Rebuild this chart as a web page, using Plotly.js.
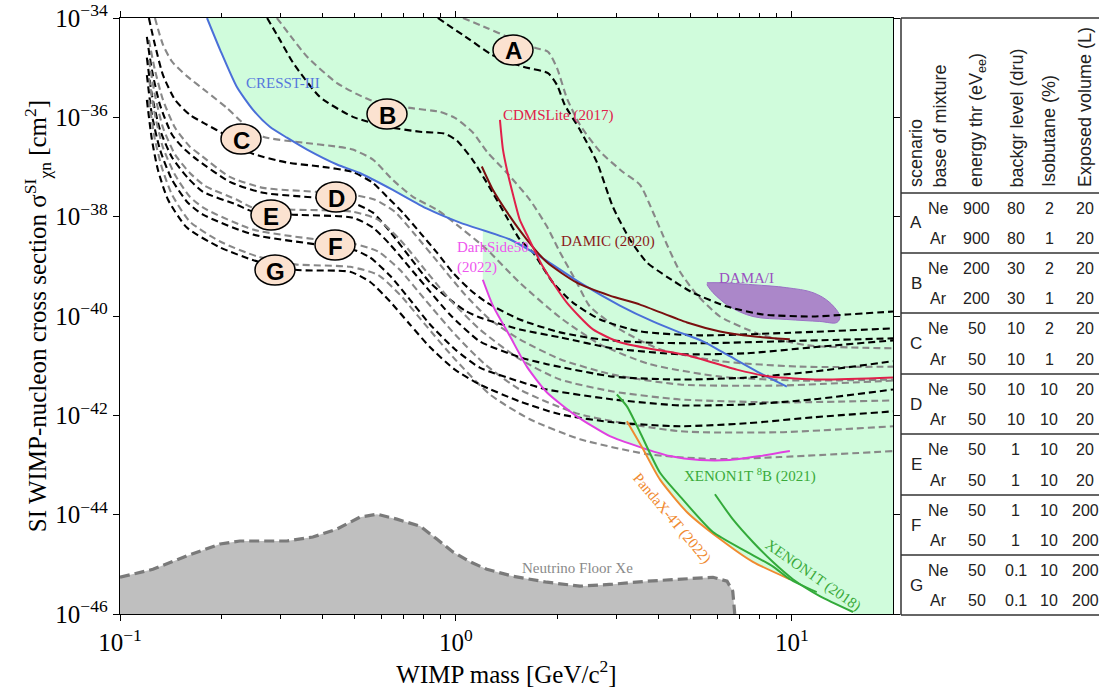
<!DOCTYPE html>
<html><head><meta charset="utf-8">
<script src="https://cdn.plot.ly/plotly-3.0.1.min.js"></script>
<style>html,body{margin:0;padding:0;background:#fff}#chart{width:1099px;height:689px}</style>
</head><body><div id="chart"></div>
<script>
// ---------- DATA: each point is [log10(WIMP mass / GeV), log10(sigma / cm^2)] ----------
// Projected sensitivities, scenario A..G, Ne-based (black) and Ar-based (grey)
const A_Ne = [[-0.054,-34.00],[0.042,-34.44],[0.107,-34.74],[0.199,-34.98],[0.274,-35.11],[0.301,-35.35],[0.324,-35.75],[0.369,-36.25],[0.420,-36.91],[0.467,-37.80],[0.518,-38.46],[0.568,-38.92],[0.628,-39.21],[0.705,-39.53],[0.807,-39.81],[0.914,-39.97],[1.063,-40.01],[1.164,-39.97],[1.301,-39.91]];
const A_Ar = [[0.021,-34.00],[0.092,-34.20],[0.161,-34.40],[0.235,-34.60],[0.274,-34.68],[0.301,-35.01],[0.330,-35.61],[0.369,-36.15],[0.429,-36.69],[0.497,-37.10],[0.548,-37.36],[0.586,-37.90],[0.628,-38.56],[0.667,-39.11],[0.717,-39.57],[0.786,-40.01],[0.905,-40.37],[1.045,-40.59],[1.301,-40.65]];
const B_Ne = [[-0.562,-34.00],[-0.524,-34.44],[-0.485,-34.90],[-0.405,-35.59],[-0.307,-35.99],[-0.205,-36.19],[-0.107,-36.29],[-0.033,-36.33],[0.003,-36.47],[0.051,-36.87],[0.101,-37.42],[0.152,-38.02],[0.190,-38.46],[0.229,-38.72],[0.289,-39.33],[0.348,-39.73],[0.429,-40.07],[0.548,-40.31],[0.726,-40.39],[1.024,-40.33],[1.301,-40.25]];
const B_Ar = [[-0.533,-34.00],[-0.488,-34.40],[-0.443,-34.78],[-0.354,-35.31],[-0.256,-35.65],[-0.137,-35.81],[-0.048,-35.89],[-0.003,-36.01],[0.051,-36.31],[0.092,-36.69],[0.152,-37.12],[0.220,-37.66],[0.271,-38.20],[0.310,-38.72],[0.360,-39.33],[0.399,-39.81],[0.488,-40.27],[0.607,-40.67],[0.786,-40.91],[1.024,-41.02],[1.301,-41.02]];
const C_Ne = [[-0.914,-34.00],[-0.896,-34.54],[-0.872,-35.15],[-0.836,-35.65],[-0.792,-35.95],[-0.741,-36.15],[-0.688,-36.35],[-0.613,-36.71],[-0.503,-36.91],[-0.405,-36.99],[-0.307,-37.10],[-0.247,-37.32],[-0.205,-37.60],[-0.158,-37.92],[-0.107,-38.32],[-0.057,-38.72],[-0.009,-39.13],[0.042,-39.47],[0.092,-39.73],[0.190,-40.07],[0.310,-40.33],[0.429,-40.47],[0.548,-40.53],[0.726,-40.55],[0.964,-40.51],[1.301,-40.45]];
const C_Ar = [[-0.896,-34.00],[-0.872,-34.54],[-0.845,-34.88],[-0.801,-35.17],[-0.741,-35.49],[-0.682,-35.81],[-0.628,-36.15],[-0.574,-36.39],[-0.455,-36.51],[-0.354,-36.59],[-0.307,-36.65],[-0.247,-36.85],[-0.188,-37.26],[-0.128,-37.60],[-0.057,-37.86],[-0.009,-38.10],[0.092,-38.66],[0.190,-39.33],[0.310,-40.03],[0.429,-40.57],[0.577,-40.97],[0.786,-41.22],[1.024,-41.30],[1.301,-41.28]];
const D_Ne = [[-0.920,-34.38],[-0.905,-35.05],[-0.881,-35.75],[-0.845,-36.35],[-0.807,-36.65],[-0.771,-36.85],[-0.673,-37.30],[-0.574,-37.52],[-0.414,-37.62],[-0.307,-37.72],[-0.247,-37.92],[-0.196,-38.30],[-0.137,-38.82],[-0.077,-39.33],[-0.018,-39.67],[0.027,-39.89],[0.071,-40.03],[0.190,-40.27],[0.310,-40.43],[0.467,-40.65],[0.667,-40.77],[0.866,-40.75],[1.063,-40.63],[1.301,-40.49]];
const D_Ar = [[-0.914,-34.44],[-0.896,-35.05],[-0.872,-35.65],[-0.836,-36.21],[-0.792,-36.59],[-0.762,-36.75],[-0.673,-37.20],[-0.574,-37.42],[-0.414,-37.50],[-0.307,-37.56],[-0.241,-37.66],[-0.182,-37.90],[-0.122,-38.36],[-0.048,-38.96],[0.027,-39.57],[0.101,-40.07],[0.190,-40.47],[0.310,-40.87],[0.467,-41.18],[0.667,-41.38],[0.964,-41.40],[1.301,-41.30]];
const E_Ne = [[-0.920,-34.80],[-0.905,-35.55],[-0.881,-36.25],[-0.845,-36.81],[-0.798,-37.22],[-0.753,-37.50],[-0.652,-37.76],[-0.604,-37.90],[-0.485,-37.96],[-0.307,-38.02],[-0.247,-38.22],[-0.196,-38.56],[-0.137,-39.03],[-0.077,-39.51],[-0.018,-39.97],[0.071,-40.51],[0.190,-40.83],[0.271,-40.97],[0.467,-41.22],[0.667,-41.28],[0.866,-41.24],[1.063,-41.12],[1.301,-40.91]];
const E_Ar = [[-0.914,-34.84],[-0.896,-35.55],[-0.872,-36.21],[-0.836,-36.75],[-0.792,-37.12],[-0.747,-37.38],[-0.652,-37.66],[-0.604,-37.82],[-0.485,-37.86],[-0.307,-37.90],[-0.232,-38.06],[-0.167,-38.46],[-0.092,-39.07],[-0.018,-39.67],[0.071,-40.27],[0.190,-40.87],[0.310,-41.28],[0.467,-41.52],[0.667,-41.68],[0.964,-41.74],[1.301,-41.70]];
const F_Ne = [[-0.920,-35.15],[-0.905,-35.95],[-0.881,-36.65],[-0.845,-37.26],[-0.798,-37.72],[-0.753,-37.96],[-0.604,-38.36],[-0.414,-38.56],[-0.307,-38.66],[-0.256,-38.82],[-0.196,-39.19],[-0.137,-39.67],[-0.077,-40.17],[-0.003,-40.67],[0.071,-41.04],[0.190,-41.32],[0.271,-41.48],[0.467,-41.68],[0.667,-41.80],[0.866,-41.78],[1.063,-41.68],[1.301,-41.48]];
const F_Ar = [[-0.914,-35.21],[-0.896,-35.95],[-0.872,-36.61],[-0.836,-37.16],[-0.792,-37.60],[-0.747,-37.84],[-0.604,-38.26],[-0.414,-38.46],[-0.307,-38.54],[-0.232,-38.70],[-0.167,-39.07],[-0.092,-39.67],[-0.003,-40.37],[0.086,-40.97],[0.190,-41.48],[0.369,-41.98],[0.667,-42.32],[0.964,-42.34],[1.301,-42.22]];
const G_Ne = [[-0.920,-35.65],[-0.905,-36.45],[-0.887,-37.06],[-0.857,-37.66],[-0.801,-38.22],[-0.702,-38.62],[-0.592,-38.90],[-0.479,-39.07],[-0.315,-39.11],[-0.256,-39.31],[-0.196,-39.71],[-0.137,-40.17],[-0.077,-40.63],[-0.003,-41.08],[0.071,-41.38],[0.190,-41.72],[0.310,-41.98],[0.467,-42.14],[0.667,-42.22],[0.866,-42.16],[1.063,-42.04],[1.301,-41.92]];
const G_Ar = [[-0.914,-35.65],[-0.896,-36.45],[-0.875,-37.02],[-0.845,-37.56],[-0.792,-38.10],[-0.702,-38.50],[-0.592,-38.80],[-0.479,-38.96],[-0.315,-39.01],[-0.232,-39.17],[-0.167,-39.57],[-0.092,-40.17],[-0.003,-40.87],[0.101,-41.58],[0.220,-42.08],[0.369,-42.48],[0.568,-42.78],[0.765,-42.88],[0.964,-42.84],[1.301,-42.72]];

// Existing experimental limits
const CRESST = [[-0.741,-34.00],[-0.702,-34.64],[-0.652,-35.39],[-0.604,-35.85],[-0.554,-36.19],[-0.503,-36.41],[-0.443,-36.65],[-0.354,-36.95],[-0.286,-37.12],[-0.188,-37.46],[-0.086,-37.84],[0.012,-38.12],[0.161,-38.46],[0.250,-38.80],[0.369,-39.33],[0.488,-39.79],[0.586,-40.11],[0.658,-40.31],[0.735,-40.51],[0.815,-40.81],[0.914,-41.18],[0.985,-41.42]];
const CDMSLite = [[0.131,-36.05],[0.140,-36.65],[0.152,-37.06],[0.170,-37.56],[0.190,-38.06],[0.211,-38.36],[0.259,-39.01],[0.330,-39.73],[0.408,-40.27],[0.488,-40.53],[0.586,-40.67],[0.688,-40.79],[0.836,-41.08],[0.935,-41.22],[1.083,-41.28],[1.301,-41.24]];
const DAMIC = [[0.077,-36.99],[0.110,-37.46],[0.161,-38.00],[0.211,-38.46],[0.271,-38.92],[0.360,-39.33],[0.458,-39.59],[0.548,-39.77],[0.688,-40.13],[0.786,-40.31],[0.884,-40.41],[0.994,-40.47]];
const DarkSide = [[0.080,-39.27],[0.110,-39.79],[0.161,-40.41],[0.211,-41.02],[0.271,-41.54],[0.360,-42.02],[0.458,-42.42],[0.548,-42.64],[0.637,-42.82],[0.726,-42.90],[0.815,-42.90],[0.905,-42.82],[0.994,-42.72]];
const XENON1T_8B = [[0.479,-41.58],[0.509,-41.82],[0.548,-42.34],[0.607,-43.15],[0.667,-43.63],[0.765,-44.35],[0.866,-44.75],[0.943,-45.04],[0.994,-45.30],[1.074,-45.56]];
const XENON1T = [[0.771,-43.59],[0.824,-44.09],[0.884,-44.55],[0.943,-44.95],[1.003,-45.30],[1.083,-45.64],[1.182,-45.96]];
const PandaX = [[0.509,-42.12],[0.557,-42.68],[0.607,-43.29],[0.688,-43.95],[0.786,-44.49],[0.884,-44.95],[0.994,-45.30]];
const DAMA = [[0.747,-39.33],[0.786,-39.33],[0.884,-39.37],[0.985,-39.43],[1.063,-39.53],[1.113,-39.73],[1.143,-40.01],[1.134,-40.13],[1.083,-40.11],[0.985,-40.07],[0.884,-40.01],[0.815,-39.81],[0.765,-39.53],[0.747,-39.37]];
const NeutrinoFloorXe = [[-1.000,-45.26],[-0.902,-45.10],[-0.801,-44.83],[-0.702,-44.59],[-0.643,-44.53],[-0.503,-44.53],[-0.426,-44.45],[-0.354,-44.29],[-0.286,-44.05],[-0.235,-43.99],[-0.176,-44.09],[-0.107,-44.23],[-0.057,-44.49],[-0.009,-44.75],[0.042,-44.95],[0.092,-45.10],[0.170,-45.24],[0.271,-45.36],[0.369,-45.44],[0.467,-45.40],[0.568,-45.34],[0.667,-45.30],[0.765,-45.26],[0.807,-45.34],[0.824,-45.54],[0.830,-46.00]];

// Axis ticks
const massTicks = [0.1, 1, 10];
const massTickText = ['10<sup>\u22121</sup>', '10<sup>0</sup>', '10<sup>1</sup>'];
const massMinorTicks = [0.2,0.3,0.4,0.5,0.6,0.7,0.8,0.9,2,3,4,5,6,7,8,9];
const sigmaTicks = [1e-46, 1e-44, 1e-42, 1e-40, 1e-38, 1e-36, 1e-34];
const sigmaTickText = ['10<sup>\u221246</sup>','10<sup>\u221244</sup>','10<sup>\u221242</sup>','10<sup>\u221240</sup>','10<sup>\u221238</sup>','10<sup>\u221236</sup>','10<sup>\u221234</sup>'];

// Table
const scenarios = ['A','B','C','D','E','F','G'];
const mixtureBase = ['Ne','Ar'];
const energyThr = [900,900,200,200,50,50,50,50,50,50,50,50,50,50];
const backgrLevel = [80,80,30,30,10,10,10,10,1,1,1,1,0.1,0.1];
const isobutane = [2,1,2,1,2,1,10,10,10,10,10,10,10,10];
const exposedVolume = [20,20,20,20,20,20,20,20,20,20,200,200,200,200];
const tableHeaders = ['scenario','base of mixture','energy thr (eV<sub>ee</sub>)','backgr level (dru)','Isobutane (%)','Exposed volume (L)'];

// ---------- helpers ----------
const P10 = v => Math.pow(10, v);
const xs = pts => pts.map(p => P10(p[0]));
const ys = pts => pts.map(p => P10(p[1]));
function interpY(pts, lx) {
  for (let i = 0; i < pts.length - 1; i++) {
    const a = pts[i], b = pts[i+1];
    if ((lx >= a[0] && lx <= b[0])) { const t = (lx - a[0]) / (b[0] - a[0]); return a[1] + t * (b[1] - a[1]); }
  }
  return pts[pts.length-1][1];
}
const X_MAX = Math.log10(20), X_MIN = -1, Y_MIN = -46, Y_MAX = -34;

const traces = [];

// Excluded (green) region built from the limit curves
const dsStart = DarkSide[0][0];
const cross = PandaX.find(p => p[1] <= interpY(DarkSide, p[0]));
const pxLast = PandaX[PandaX.length-1][0];
const region = [];
region.push([CRESST[0][0], Y_MAX + 0.5]);
CRESST.filter(p => p[0] < dsStart).forEach(p => region.push(p));
region.push([dsStart, interpY(CRESST, dsStart)]);
DarkSide.filter(p => p[0] < cross[0]).forEach(p => region.push(p));
PandaX.filter(p => p[0] >= cross[0]).forEach(p => region.push(p));
XENON1T.filter(p => p[0] > pxLast).forEach(p => region.push(p));
region.push([XENON1T[XENON1T.length-1][0] + 0.02, Y_MIN - 0.5]);
region.push([X_MAX + 0.3, Y_MIN - 0.5]);
region.push([X_MAX + 0.3, Y_MAX + 0.5]);
traces.push({x: xs(region), y: ys(region), mode:'lines', fill:'toself', fillcolor:'#d0fcdc', line:{width:0, color:'rgba(0,0,0,0)'}, hoverinfo:'skip'});

// Neutrino floor fill
const nf = NeutrinoFloorXe.slice();
const nfPoly = nf.concat([[nf[nf.length-1][0], Y_MIN - 1], [X_MIN - 0.2, Y_MIN - 1], [X_MIN - 0.2, nf[0][1]]]);
traces.push({x: xs(nfPoly), y: ys(nfPoly), mode:'lines', fill:'toself', fillcolor:'#bfbfbf', line:{width:0, color:'rgba(0,0,0,0)'}, hoverinfo:'skip'});
traces.push({x: xs(nf), y: ys(nf), mode:'lines', line:{color:'#7a7a7a', width:3.2, dash:'10px,5px'}, hoverinfo:'skip'});

// DAMA region
traces.push({x: xs(DAMA), y: ys(DAMA), mode:'lines', fill:'toself', fillcolor:'#ab87c9', line:{color:'#9a70c4', width:1, shape:'spline'}, hoverinfo:'skip'});

// Scenario curves
const scenarioCurves = [[A_Ne, A_Ar],[B_Ne, B_Ar],[C_Ne, C_Ar],[D_Ne, D_Ar],[E_Ne, E_Ar],[F_Ne, F_Ar],[G_Ne, G_Ar]];
scenarioCurves.forEach(([ne, ar]) => {
  traces.push({x: xs(ar), y: ys(ar), mode:'lines', line:{color:'#888888', width:2.1, dash:'7px,4px', shape:'spline', smoothing:0.6}, hoverinfo:'skip'});
  traces.push({x: xs(ne), y: ys(ne), mode:'lines', line:{color:'#000000', width:2.1, dash:'7px,4px', shape:'spline', smoothing:0.6}, hoverinfo:'skip'});
});

// Experimental limits
const expLine = (pts, color) => ({x: xs(pts), y: ys(pts), mode:'lines', line:{color: color, width:2, shape:'spline', smoothing:0.6}, hoverinfo:'skip'});
traces.push(expLine(CRESST, '#4a6fd8'));
traces.push(expLine(DAMIC, '#7a1010'));
traces.push(expLine(CDMSLite, '#e0204a'));
traces.push(expLine(DarkSide, '#e040e0'));
traces.push(expLine(PandaX, '#f08a30'));
traces.push(expLine(XENON1T_8B, '#33aa3a'));
traces.push(expLine(XENON1T, '#33aa3a'));

// ---------- layout ----------
const W = 1099, H = 689, ML = 120, MR = 206, MT = 18, MB = 75;
const PW = W - ML - MR, PH = H - MT - MB;
const pxX = v => (v - ML) / PW;
const pxY = v => (H - MB - v) / PH;

const shapes = [];
const annotations = [];
const serif = 'Liberation Serif, Times New Roman, serif';
const sans = 'Liberation Sans, Arial, sans-serif';

// Scenario label bubbles
const bubblePos = {A:[513,50], B:[387,114], C:[241,139], D:[336,197], E:[271,215], F:[335,245], G:[275,270]};
scenarios.forEach(s => {
  const [cx, cy] = bubblePos[s];
  shapes.push({type:'circle', xref:'paper', yref:'paper', x0:pxX(cx-20), x1:pxX(cx+20), y0:pxY(cy+15), y1:pxY(cy-15), fillcolor:'#fbe2d0', line:{color:'#000', width:1.5}, layer:'above'});
  annotations.push({xref:'paper', yref:'paper', x:pxX(cx), y:pxY(cy+1), text:'<b>'+s+'</b>', showarrow:false, font:{family:sans, size:24, color:'#000'}, xanchor:'center', yanchor:'middle'});
});

// Experiment labels
function lbl(text, cx, cy, color, opts) {
  annotations.push(Object.assign({xref:'paper', yref:'paper', x:pxX(cx), y:pxY(cy), text:text, showarrow:false, font:{family:serif, size:15, color:color}, xanchor:'center', yanchor:'middle'}, opts || {}));
}
lbl('CRESST-III', 283, 83, '#5577dd');
lbl('CDMSLite (2017)', 558, 115, '#e0204a');
lbl('DAMIC (2020)', 608, 241, '#8b1a1a');
lbl('DarkSide50<br>(2022)', 455, 257, '#ee55ee', {xanchor:'left', align:'left'});
lbl('DAMA/I', 746, 278, '#9a50c0');
lbl('XENON1T <sup>8</sup>B (2021)', 750, 475, '#3aaa3a');
lbl('XENON1T (2018)', 813, 575, '#3aaa3a', {textangle:35});
lbl('PandaX-4T (2022)', 672, 518, '#f08a30', {textangle:50});
lbl('Neutrino Floor Xe', 577, 568, '#8a8a8a');

// Table
const TX0 = 901, TX1 = 1099;
const lineStyle = {color:'#333', width:1.5};
shapes.push({type:'line', xref:'paper', yref:'paper', x0:pxX(TX0), x1:pxX(TX0), y0:pxY(18), y1:pxY(615), line:lineStyle});
const hLines = [18, 193, 253, 313, 374, 434, 495, 555, 615];
hLines.forEach(y => shapes.push({type:'line', xref:'paper', yref:'paper', x0:pxX(TX0), x1:pxX(TX1+2), y0:pxY(y), y1:pxY(y), line:lineStyle}));
const colX = [916, 939, 977, 1016, 1049, 1085];
tableHeaders.forEach((h, i) => {
  annotations.push({xref:'paper', yref:'paper', x:pxX(colX[i]), y:pxY(189), text:h, textangle:-90, showarrow:false, font:{family:sans, size:18, color:'#222'}, xanchor:'center', yanchor:'bottom'});
});
const tFont = {family:sans, size:16, color:'#222'};
scenarios.forEach((s, k) => {
  const top = hLines[k+1], bot = hLines[k+2];
  const mid = (top + bot) / 2;
  annotations.push({xref:'paper', yref:'paper', x:pxX(colX[0]), y:pxY(mid), text:s, showarrow:false, font:{family:sans, size:17, color:'#222'}, xanchor:'center', yanchor:'middle'});
  [0,1].forEach(j => {
    const r = 2*k + j;
    const ry = top + (bot - top) * (j === 0 ? 0.26 : 0.76);
    const vals = [mixtureBase[j], energyThr[r], backgrLevel[r], isobutane[r], exposedVolume[r]];
    vals.forEach((v, c) => {
      annotations.push({xref:'paper', yref:'paper', x:pxX(colX[c+1]), y:pxY(ry), text:String(v), showarrow:false, font:tFont, xanchor:'center', yanchor:'middle'});
    });
  });
});

const axisCommon = {showline:true, linecolor:'#000', linewidth:1.3, mirror:'ticks', ticks:'outside', tickcolor:'#000', tickwidth:1, showgrid:false, zeroline:false, tickfont:{family:serif, size:25, color:'#000'}};

const layout = {
  width: W, height: H,
  margin: {l:ML, r:MR, t:MT, b:MB, pad:0},
  paper_bgcolor:'#fff', plot_bgcolor:'#fff',
  showlegend:false,
  font:{family:serif, size:16, color:'#000'},
  xaxis: Object.assign({}, axisCommon, {
    type:'log', range:[X_MIN, X_MAX], tickmode:'array', tickvals:massTicks, ticktext:massTickText, ticklen:6,
    minor:{tickmode:'array', tickvals:massMinorTicks, ticks:'outside', ticklen:3.5, tickcolor:'#000', tickwidth:1},
    title:{text:'WIMP mass [GeV/c<sup>2</sup>]', font:{family:serif, size:25, color:'#000'}, standoff:0}
  }),
  yaxis: Object.assign({}, axisCommon, {
    type:'log', range:[Y_MIN, Y_MAX], tickmode:'array', tickvals:sigmaTicks, ticktext:sigmaTickText, ticklen:6,
    title:{text:'SI WIMP-nucleon cross section \u03c3<sup>SI</sup><sub>\u03c7n</sub> [cm<sup>2</sup>]', font:{family:serif, size:25, color:'#000'}, standoff:0}
  }),
  shapes: shapes,
  annotations: annotations
};

Plotly.newPlot('chart', traces, layout, {staticPlot:true, displayModeBar:false});
</script>
</body></html>
